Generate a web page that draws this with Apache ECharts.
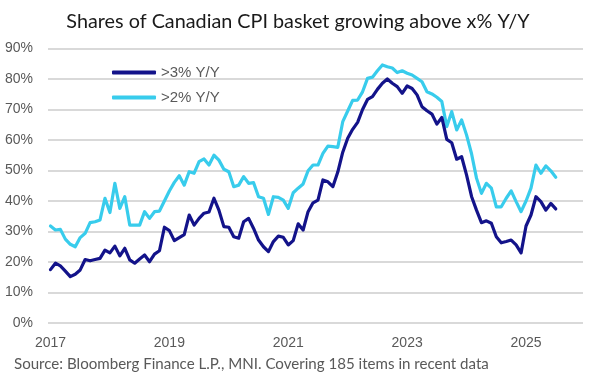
<!DOCTYPE html>
<html>
<head>
<meta charset="utf-8">
<script src="https://cdn.jsdelivr.net/npm/echarts@6/dist/echarts.min.js"></script>
<style>
  html, body { margin: 0; padding: 0; background: #fff; }
  #chart { width: 596px; height: 375px; }
</style>
</head>
<body>
<div id="chart"></div>
<script>
// monthly readings, Jan 2017 .. Jul 2025
const above3 = [
  17.5, 19.6, 18.7, 17.0, 15.2, 16.0, 17.4, 20.8, 20.4, 20.8, 21.2, 23.9,
  23.0, 25.2, 22.0, 24.5, 20.7, 19.6, 21.0, 22.3, 20.1, 22.6, 23.7, 31.4,
  30.3, 27.0, 28.0, 29.0, 35.4, 32.1, 34.3, 36.0, 36.4, 40.9, 37.0, 31.6,
  31.4, 28.3, 27.8, 33.2, 34.3, 31.0, 27.2, 25.0, 23.4, 26.7, 28.5, 28.1,
  25.6, 27.0, 32.5, 30.5, 36.5, 39.4, 40.3, 46.9, 46.3, 44.7, 49.5, 56.0,
  60.6, 63.5, 65.8, 70.0, 73.3, 74.2, 76.6, 78.6, 80.0, 78.6, 77.5, 75.3,
  77.7, 76.9, 74.8, 70.9, 69.6, 68.5, 65.2, 67.4, 60.2, 59.1, 53.7, 54.5,
  48.5, 41.5, 37.0, 32.9, 33.5, 32.7, 28.3, 26.3, 26.7, 27.2, 25.6, 23.0,
  31.8, 35.4, 41.4, 39.8, 37.0, 39.2, 37.4
]
const above2 = [
  31.8, 30.5, 30.7, 27.5, 25.8, 25.0, 28.0, 29.4, 32.9, 33.2, 33.8, 40.9,
  36.2, 45.8, 37.6, 41.4, 32.1, 32.1, 32.1, 36.5, 34.3, 36.5, 36.7, 40.0,
  43.3, 46.1, 48.3, 45.2, 49.6, 49.1, 52.9, 53.8, 51.8, 55.0, 53.4, 50.4,
  49.6, 44.7, 45.2, 48.0, 45.8, 46.0, 41.4, 40.9, 35.6, 41.4, 41.2, 40.3,
  37.6, 42.7, 44.2, 45.6, 49.9, 51.8, 51.8, 55.6, 58.0, 57.8, 57.6, 66.0,
  69.5, 73.0, 73.1, 75.8, 80.2, 80.6, 82.7, 84.6, 84.0, 83.6, 82.1, 82.7,
  81.9, 81.3, 80.2, 79.1, 75.8, 75.1, 74.0, 72.6, 64.4, 69.3, 63.3, 66.6,
  61.6, 55.5, 47.5, 42.5, 45.8, 44.2, 38.1, 38.1, 40.9, 43.3, 39.8, 36.5,
  40.0, 44.2, 51.8, 49.1, 51.5, 49.9, 47.8
]
const yearTicks = [2017, 2019, 2021, 2023, 2025]
const seriesNames = ['>3% Y/Y', '>2% Y/Y']

const titleText = 'Shares of Canadian CPI basket growing above x% Y/Y'
const sourceText = 'Source: Bloomberg Finance L.P., MNI. Covering 185 items in recent data'

const firstYear = 2017
const toPoints = arr => arr.map((v, i) => [i, v])

const chart = echarts.init(document.getElementById('chart'))

const option = {
  animation: false,
  backgroundColor: '#fff',
  title: [
    {
      text: titleText,
      left: 'center',
      top: 7,
      textStyle: { fontFamily: 'Lato', fontSize: 19.8, fontWeight: 'normal', color: '#1a1a1a' },
    },
    {
      text: sourceText,
      left: 14,
      top: 357,
      padding: 0,
      textStyle: { fontFamily: 'Lato', fontSize: 15.1, fontWeight: 'normal', color: '#595959' },
    },
  ],
  legend: {
    orient: 'vertical',
    left: 107,
    top: 60,
    itemWidth: 44,
    itemHeight: 4,
    itemGap: 10,
    icon: 'roundRect',
    data: seriesNames,
    textStyle: { fontFamily: 'Liberation Sans', fontSize: 15, color: '#595959' },
  },
  grid: { left: 48, right: 13, top: 48.5, bottom: 52 },
  xAxis: {
    type: 'value',
    min: -0.5,
    max: 107.5,
    axisLine: { show: false },
    axisTick: { show: false },
    splitLine: { show: false },
    axisLabel: {
      customValues: yearTicks.map(y => (y - firstYear) * 12),
      formatter: v => String(firstYear + Math.round(v / 12)),
      fontFamily: 'Liberation Sans',
      fontSize: 14,
      color: '#595959',
      margin: 13,
    },
  },
  yAxis: {
    type: 'value',
    min: 0,
    max: 90,
    interval: 10,
    axisLine: { show: false },
    axisTick: { show: false },
    splitLine: { lineStyle: { color: '#d9d9d9', width: 2 } },
    axisLabel: {
      formatter: '{value}%',
      fontFamily: 'Liberation Sans',
      fontSize: 14,
      color: '#595959',
      margin: 15,
    },
  },
  series: [
    {
      name: seriesNames[1],
      type: 'line',
      data: toPoints(above2),
      showSymbol: false,
      symbol: 'none',
      lineStyle: { color: '#38ccec', width: 3.2, cap: 'round', join: 'round' },
      itemStyle: { color: '#38ccec' },
    },
    {
      name: seriesNames[0],
      type: 'line',
      data: toPoints(above3),
      showSymbol: false,
      symbol: 'none',
      lineStyle: { color: '#13138a', width: 3.2, cap: 'round', join: 'round' },
      itemStyle: { color: '#13138a' },
    },
  ],
}

chart.setOption(option)
</script>
</body>
</html>
